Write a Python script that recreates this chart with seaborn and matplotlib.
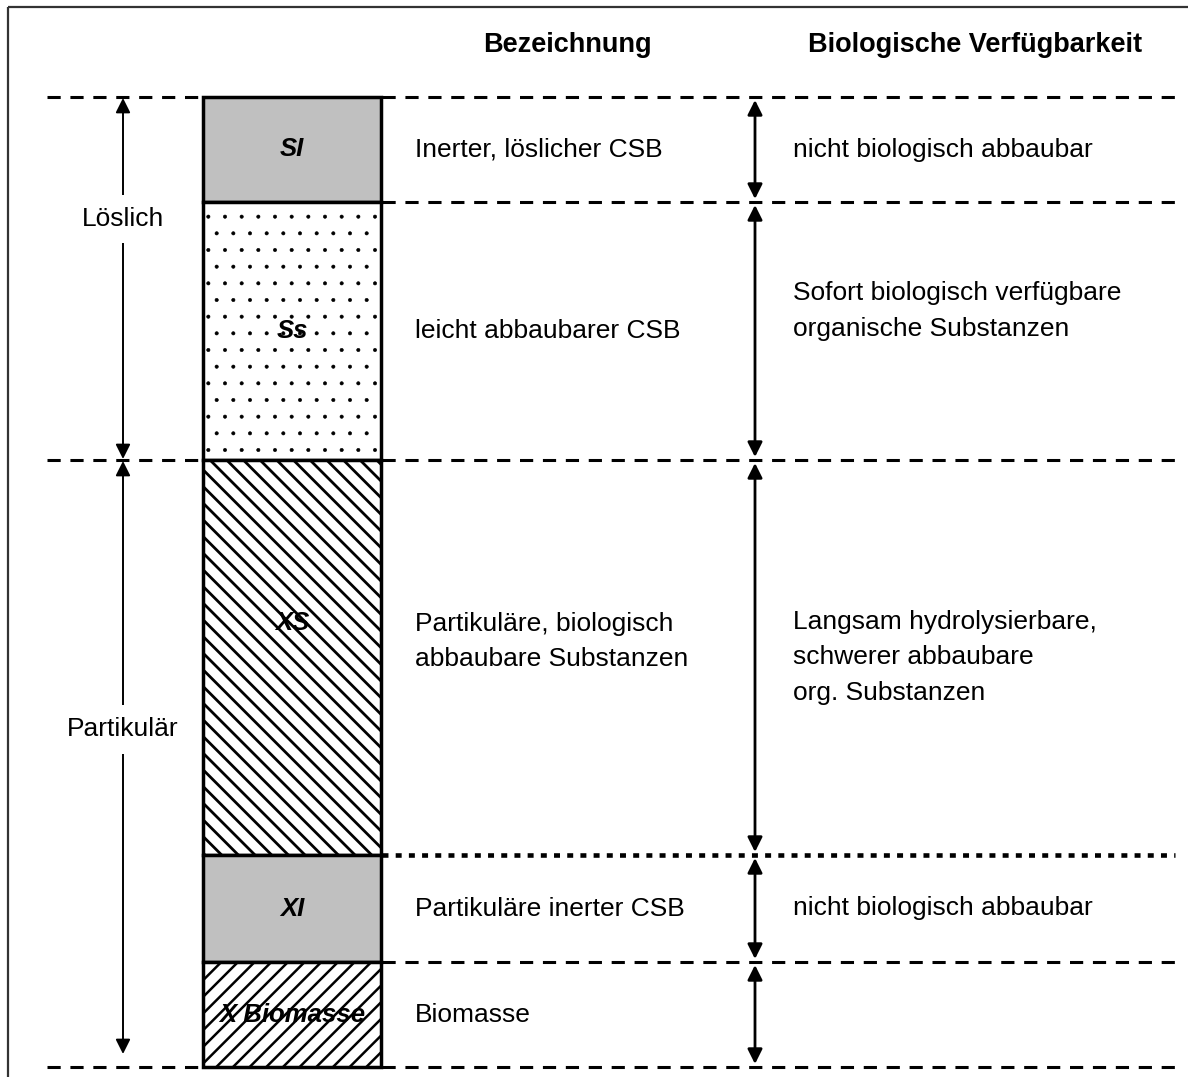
import numpy as np
import matplotlib.pyplot as plt
import matplotlib.patches as mpatches
import seaborn as sns

sns.set_style('white')
plt.rcParams['font.family'] = ['Liberation Sans', 'DejaVu Sans']
plt.rcParams['text.color'] = 'black'
plt.rcParams['lines.scale_dashes'] = False

# CSB-Fraktionen (Hoehen in Bildeinheiten, von oben nach unten)
fraktionen = ['SI', 'Ss', 'XS', 'XI', 'X Biomasse']
hoehen = [105, 258, 395, 107, 105]
start = 97
bezeichnung = ['Inerter, löslicher CSB', 'leicht abbaubarer CSB',
               'Partikuläre, biologisch\nabbaubare Substanzen',
               'Partikuläre inerter CSB', 'Biomasse']
verfuegbarkeit = ['nicht biologisch abbaubar',
                  'Sofort biologisch verfügbare\norganische Substanzen',
                  'Langsam hydrolysierbare,\nschwerer abbaubare\norg. Substanzen',
                  'nicht biologisch abbaubar', '']
gruppen = ['Löslich', 'Partikulär']
gruppen_anzahl = [2, 3]

grenzen = start + np.concatenate([[0], np.cumsum(hoehen)])
mitten = (grenzen[:-1] + grenzen[1:]) / 2

fig = plt.figure(figsize=(11.88, 10.77), dpi=100)
ax = fig.add_axes([0, 0, 1, 1])
ax.set_xlim(0, 1188)
ax.set_ylim(1077, 0)
ax.axis('off')

# Rahmen
ax.add_patch(mpatches.Rectangle((8, 7), 1200, 1100, fill=False, edgecolor='#333333', lw=1.6))

# Saeule
farben = ['#c0c0c0', 'white', 'white', '#c0c0c0', 'white']
muster = ['', '.', '\\\\', '', '//']
hlw = [1, 0.4, 2.0, 1, 1.8]
label_dy = [0, 0, -35, 0, 0]
for i in range(len(fraktionen)):
    with plt.rc_context({'hatch.linewidth': hlw[i]}):
        ax.bar(292, hoehen[i], bottom=grenzen[i], width=178, color=farben[i],
               hatch=muster[i], edgecolor='black', linewidth=2.5)
    ax.text(292, mitten[i] + label_dy[i], fraktionen[i], ha='center', va='center',
            fontsize=18.5, fontweight='bold', fontstyle='italic')

# horizontale Trennlinien
for i, y in enumerate(grenzen):
    if i == 3:
        ax.plot([382, 1175], [y, y], color='black', lw=3.3, dashes=(4.3, 5.2))
    else:
        ax.plot([382, 1175], [y, y], color='black', lw=2.2, dashes=(9.5, 7))
    if i in (0, 2, 5):
        ax.plot([47, 203], [y, y], color='black', lw=2.2, dashes=(9.5, 7))

# Pfeile mittlere Spalte + Texte
dy2 = [0, 0, -16, 0, 0]
dy3 = [0, -20, 0, 0, 0]
for i in range(len(fraktionen)):
    ax.annotate('', xy=(755, grenzen[i] + 3), xytext=(755, grenzen[i + 1] - 3),
                arrowprops=dict(arrowstyle='<|-|>', color='black', lw=2,
                                mutation_scale=22, shrinkA=0, shrinkB=0))
    ax.text(415, mitten[i] + dy2[i], bezeichnung[i], ha='left', va='center',
            fontsize=19, linespacing=1.6)
    ax.text(793, mitten[i] + dy3[i], verfuegbarkeit[i], ha='left', va='center',
            fontsize=19, linespacing=1.6)

# Gruppenpfeile links
k = 0
for g, n in zip(gruppen, gruppen_anzahl):
    y0, y1 = grenzen[k], grenzen[k + n]
    if k + n == len(fraktionen):
        y1 = y1 - 12
    ax.annotate('', xy=(123, y0 + 1), xytext=(123, y1 - 1),
                arrowprops=dict(arrowstyle='<|-|>', color='black', lw=1.4,
                                mutation_scale=22, shrinkA=0, shrinkB=0))
    ly = y0 + 122 if k == 0 else (y0 + y1) / 2 - 28
    ax.text(123, ly, g, ha='center', va='center', fontsize=19,
            bbox=dict(facecolor='white', edgecolor='none', pad=9))
    k += n

# Kopfzeile
ax.text(567, 45, 'Bezeichnung', ha='center', va='center', fontsize=19.5,
        fontweight='bold')
ax.text(975, 45, 'Biologische Verfügbarkeit', ha='center', va='center',
        fontsize=19.5, fontweight='bold')

fig.savefig('out.png', dpi=100)
